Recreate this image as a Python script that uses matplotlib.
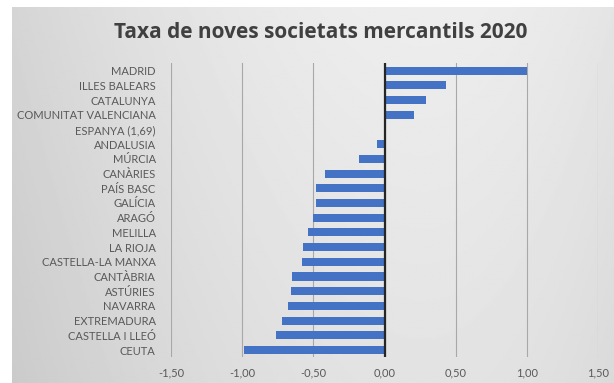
import numpy as np
import matplotlib.pyplot as plt

regions = ['MADRID', 'ILLES BALEARS', 'CATALUNYA', 'COMUNITAT VALENCIANA',
           'ESPANYA (1,69)', 'ANDALUSIA', 'MÚRCIA', 'CANÀRIES', 'PAÍS BASC',
           'GALÍCIA', 'ARAGÓ', 'MELILLA', 'LA RIOJA', 'CASTELLA-LA MANXA',
           'CANTÀBRIA', 'ASTÚRIES', 'NAVARRA', 'EXTREMADURA',
           'CASTELLA I LLEÓ', 'CEUTA']
values = [1.00, 0.43, 0.29, 0.21, 0.00, -0.05, -0.18, -0.42, -0.48, -0.48,
          -0.50, -0.54, -0.57, -0.58, -0.65, -0.66, -0.68, -0.72, -0.76, -0.99]
ticks = [-1.5, -1.0, -0.5, 0.0, 0.5, 1.0, 1.5]

plt.rcParams['font.family'] = ['Lato', 'DejaVu Sans']

fig = plt.figure(figsize=(6.14, 3.83), dpi=100)
fig.patch.set_facecolor('white')

# grey gradient background of the chart area
bg = fig.add_axes([12 / 614, 0, 1 - 12 / 614, 1 - 7 / 383], zorder=0)
gx = np.linspace(0, 1, 300)
gy = np.linspace(0, 1, 200)
X, Y = np.meshgrid(gx, gy)
shade = 0.955 - 0.12 * (1 - X) ** 2 - 0.06 * X ** 4 - 0.04 * Y
bg.imshow(shade, cmap='gray', vmin=0, vmax=1, aspect='auto', extent=[0, 1, 1, 0])
bg.axis('off')

ax = fig.add_axes([171 / 614, 1 - 357.4 / 383, (598 - 171) / 614, (357.4 - 63.3) / 383], zorder=1)
ax.patch.set_alpha(0)

y = np.arange(len(regions))
ax.barh(y, values, height=0.55, color='#4472C4', zorder=3)
ax.axvline(0, color='#262626', lw=1.6, zorder=4)

ax.set_xlim(-1.5, 1.5)
ax.set_ylim(len(regions) - 0.5, -0.5)
ax.set_yticks(y)
ax.set_yticklabels(regions)
ax.set_xticks(ticks)
ax.set_xticklabels([f'{t:.2f}'.replace('.', ',') for t in ticks])
ax.tick_params(length=0, labelsize=8, labelcolor='#595959')
ax.tick_params(axis='y', pad=11)
ax.tick_params(axis='x', pad=7)
ax.grid(axis='x', color='#a8a8a8', lw=0.8, zorder=1)
for s in ax.spines.values():
    s.set_visible(False)

fig.text(0.522, 1 - 32 / 383, 'Taxa de noves societats mercantils 2020',
         ha='center', va='center', fontsize=15, fontweight='bold', color='#404040',
         family=['Open Sans', 'DejaVu Sans'])

fig.savefig('out.png', dpi=100)
